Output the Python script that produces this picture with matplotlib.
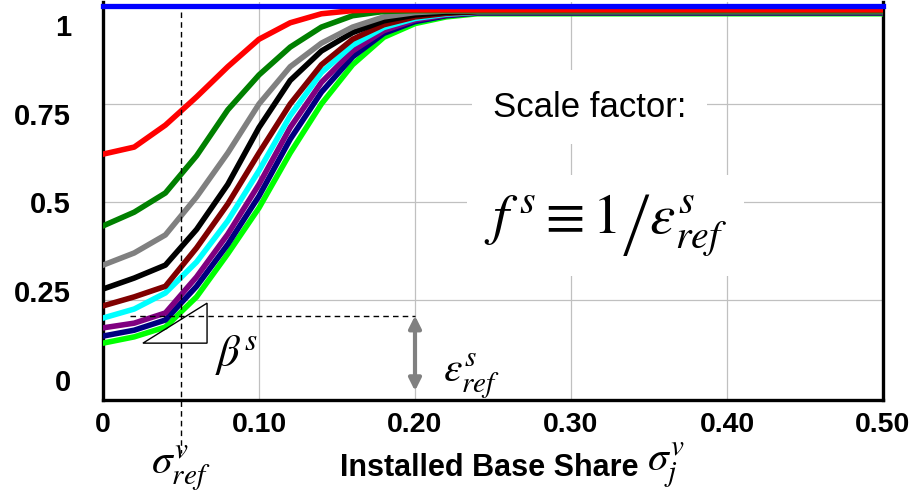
import numpy as np
import matplotlib
matplotlib.use("Agg")
import matplotlib.pyplot as plt
from matplotlib.patches import Polygon

plt.rcParams['font.family'] = ['Liberation Sans', 'DejaVu Sans']
plt.rcParams['mathtext.fontset'] = 'stix'

# installed base share (x) sample points
share = [0, 0.02, 0.04, 0.06, 0.08, 0.10, 0.12, 0.14, 0.16, 0.18, 0.20, 0.22, 0.24, 0.50]

# curves, one per beta value
blue_vals = [1.0] * 14
red_vals = [0.622, 0.640, 0.696, 0.768, 0.845, 0.915, 0.957, 0.980, 0.988, 0.990, 0.990, 0.990, 0.990, 0.990]
green_vals = [0.439, 0.474, 0.523, 0.618, 0.735, 0.824, 0.895, 0.946, 0.975, 0.986, 0.988, 0.988, 0.988, 0.988]
gray_vals = [0.339, 0.370, 0.416, 0.513, 0.625, 0.750, 0.845, 0.905, 0.946, 0.972, 0.983, 0.987, 0.987, 0.987]
black_vals = [0.278, 0.306, 0.339, 0.430, 0.545, 0.690, 0.810, 0.885, 0.932, 0.962, 0.977, 0.984, 0.986, 0.986]
maroon_vals = [0.235, 0.258, 0.285, 0.383, 0.495, 0.625, 0.750, 0.850, 0.915, 0.952, 0.972, 0.981, 0.985, 0.985]
cyan_vals = [0.204, 0.227, 0.268, 0.347, 0.452, 0.580, 0.720, 0.830, 0.900, 0.945, 0.968, 0.979, 0.984, 0.984]
purple_vals = [0.179, 0.191, 0.217, 0.309, 0.418, 0.545, 0.690, 0.805, 0.885, 0.937, 0.964, 0.977, 0.983, 0.983]
navy_vals = [0.158, 0.173, 0.199, 0.285, 0.392, 0.515, 0.660, 0.780, 0.870, 0.930, 0.960, 0.975, 0.982, 0.982]
lime_vals = [0.140, 0.156, 0.181, 0.258, 0.368, 0.485, 0.625, 0.750, 0.850, 0.920, 0.955, 0.972, 0.980, 0.980]

curves = [lime_vals, navy_vals, purple_vals, cyan_vals, maroon_vals,
          black_vals, gray_vals, green_vals, red_vals]
colors = ['#00ff00', '#000080', '#800080', '#00ffff', '#800000',
          '#000000', '#808080', '#008000', '#ff0000']

xticks = [0, 0.1, 0.2, 0.3, 0.4, 0.5]
xtick_labels = ['0', '0.10', '0.20', '0.30', '0.40', '0.50']
yticks = [0, 0.25, 0.5, 0.75, 1.0]
ytick_labels = ['0', '0.25', '0.5', '0.75', '1']

sigma_ref = 0.05
eps_ref = 0.21

fig = plt.figure(figsize=(9.12, 4.96), dpi=100)
ax = fig.add_axes([103 / 912, 96 / 496, 780 / 912, 398 / 496])
ax.set_xlim(0, 0.5)
ax.set_ylim(-0.005, 1.010)

# grid
for x in xticks[1:-1]:
    ax.axvline(x, color='#c0c0c0', lw=0.9, zorder=0)
for y in yticks[1:-1]:
    ax.axhline(y, color='#c0c0c0', lw=0.9, zorder=0)

for vals, c in zip(curves, colors):
    ax.plot(share, vals, color=c, lw=4.0, zorder=3)
ax.plot(share, blue_vals, color='#0000ff', lw=3.8, zorder=5, clip_on=False)

# spines / ticks
ax.spines['top'].set_visible(False)
for s in ['left', 'bottom', 'right']:
    ax.spines[s].set_linewidth(2.4)
    ax.spines[s].set_color('black')
ax.set_xticks(xticks)
ax.set_xticklabels(xtick_labels, fontsize=20.5, fontweight='bold')
# labels in the original sit slightly squeezed towards the middle
ax.set_yticks([0.046 + 0.906 * v for v in yticks])
ax.set_yticklabels(ytick_labels, fontsize=21, fontweight='bold')
ax.tick_params(axis='x', length=0, pad=9)
ax.tick_params(axis='y', length=0, pad=23)

# reference lines
ax.plot([sigma_ref, sigma_ref], [0.985, -0.14], 'k--', lw=1.0, dashes=(4, 3), clip_on=False, zorder=4)
ax.plot([0.017, 0.2], [eps_ref, eps_ref], 'k--', lw=1.0, dashes=(4, 3), zorder=4)

# slope triangle
tri = Polygon([[0.0256, 0.14], [0.0667, 0.14], [0.0667, 0.242]], closed=True,
              fill=False, edgecolor='black', lw=1.0, zorder=4)
ax.add_patch(tri)
ax.text(0.072, 0.11, r'$\beta^{s}$', fontsize=32, ha='left', va='center')

# epsilon arrow
ax.annotate('', xy=(0.2, 0.018), xytext=(0.2, eps_ref),
            arrowprops=dict(arrowstyle='<|-|>', color='#808080', lw=3, mutation_scale=18,
                            shrinkA=0, shrinkB=0), zorder=4)
ax.text(0.218, 0.055, r'$\varepsilon^{s}_{ref}$', fontsize=30, ha='left', va='center')

# scale factor box
ax.text(0.312, 0.742, 'Scale factor:', fontsize=25, ha='center', va='center', zorder=6,
        bbox=dict(boxstyle='square,pad=0.6', fc='white', ec='none'))
ax.text(0.322, 0.44, r'$f^{\,s} \equiv 1\left/\varepsilon^{s}_{ref}\right.$', fontsize=41,
        ha='center', va='center', zorder=6,
        bbox=dict(boxstyle='square,pad=0.3', fc='white', ec='none'))

# x axis labels
ax.text(sigma_ref, -0.18, r'$\sigma^{v}_{ref}$', fontsize=30, ha='center', va='center', clip_on=False)
ax.text(0.686, -0.172, 'Installed Base Share', fontsize=22, fontweight='bold',
        ha='right', va='center', transform=ax.transAxes)
ax.text(0.697, -0.165, r'$\sigma^{v}_{j}$', fontsize=30, ha='left', va='center', transform=ax.transAxes)

fig.savefig('out.png', dpi=100)
